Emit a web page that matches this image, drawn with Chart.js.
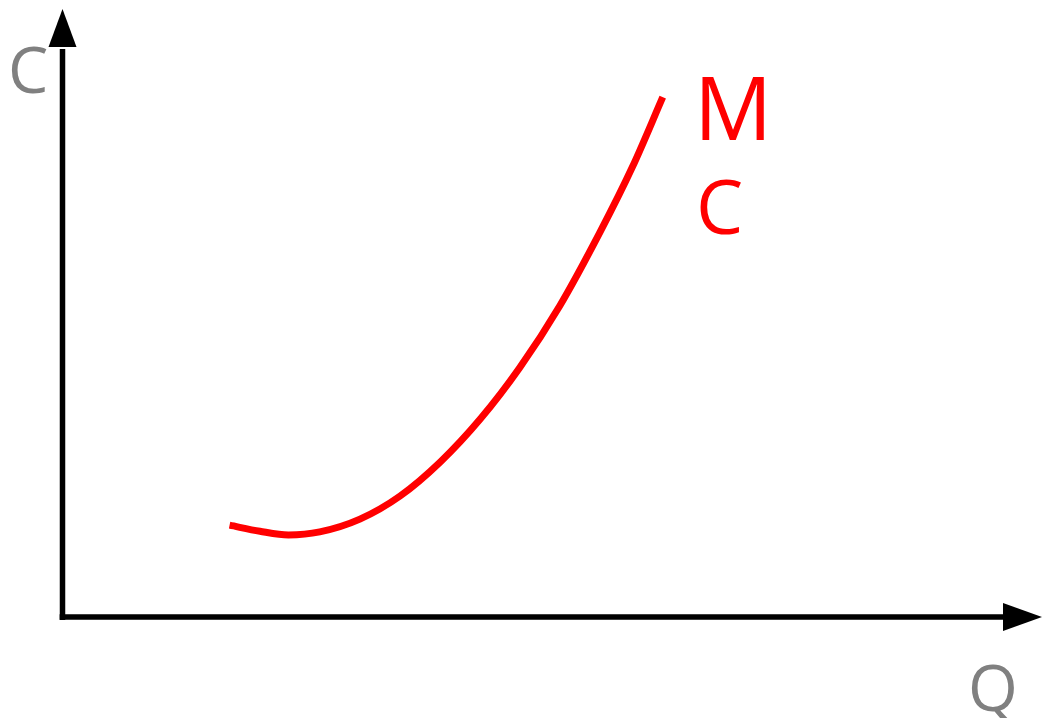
<!DOCTYPE html>
<html>
<head>
<meta charset="utf-8">
<title>MC curve</title>
<script src="https://cdn.jsdelivr.net/npm/chart.js@4/dist/chart.umd.min.js"></script>
<style>
    html, body { margin: 0; padding: 0; background: #fff; }
    #wrap { width: 1045px; height: 718px; position: relative; }
</style>
</head>
<body>
<div id="wrap"><canvas id="mcChart"></canvas></div>
<script>
// Quantity (x) and marginal cost (y)
const qValues = [17.1, 20.2, 23.1, 26.3, 30.4, 34.5, 38.6, 42.7, 46.7, 50.8, 54.9, 58.2, 61.3];
const mcValues = [15.1, 14.1, 13.5, 14.0, 16.1, 19.9, 25.5, 32.6, 41.0, 51.2, 63.3, 74.0, 85.5];

const yAxisLabel = 'C';
const xAxisLabel = 'Q';
const curveLabel = ['M', 'C'];

const points = qValues.map((q, i) => ({ x: q, y: mcValues[i] }));

// Axes with arrow heads plus the text labels
const axesPlugin = {
    id: 'axesPlugin',
    afterDraw(chart) {
        const ctx = chart.ctx;
        const xs = chart.scales.x;
        const ys = chart.scales.y;
        const x0 = xs.getPixelForValue(0) + 0.5;
        const y0 = ys.getPixelForValue(0);
        const xEnd = xs.getPixelForValue(xs.max);
        const yEnd = ys.getPixelForValue(ys.max);

        ctx.save();
        ctx.strokeStyle = '#000';
        ctx.fillStyle = '#000';
        ctx.lineWidth = 5.5;
        ctx.lineCap = 'butt';

        ctx.beginPath();
        ctx.moveTo(x0, y0 + 3);
        ctx.lineTo(x0, yEnd + 40);
        ctx.moveTo(x0 - 3, y0);
        ctx.lineTo(xEnd - 38, y0);
        ctx.stroke();

        // arrow heads
        ctx.beginPath();
        ctx.moveTo(x0, yEnd);
        ctx.lineTo(x0 + 14, yEnd + 38);
        ctx.lineTo(x0 - 14, yEnd + 38);
        ctx.closePath();
        ctx.fill();

        ctx.beginPath();
        ctx.moveTo(xEnd, y0);
        ctx.lineTo(xEnd - 39, y0 - 14);
        ctx.lineTo(xEnd - 39, y0 + 14);
        ctx.closePath();
        ctx.fill();

        ctx.textAlign = 'left';
        ctx.textBaseline = 'alphabetic';
        ctx.fillStyle = '#808080';
        ctx.font = '64px "Open Sans"';
        ctx.fillText(yAxisLabel, 8, 93);
        ctx.fillText(xAxisLabel, 968, 711);

        ctx.fillStyle = '#ff0000';
        ctx.font = '87px "Open Sans"';
        ctx.fillText(curveLabel[0], 694, 140);
        ctx.font = '75px "Open Sans"';
        ctx.fillText(curveLabel[1], 696, 234);
        ctx.restore();
    }
};

new Chart(document.getElementById('mcChart').getContext('2d'), {
    type: 'scatter',
    data: {
        datasets: [{
            label: 'MC',
            data: points,
            showLine: true,
            borderColor: '#ff0000',
            borderWidth: 7,
            borderCapStyle: 'butt',
            pointRadius: 0,
            cubicInterpolationMode: 'monotone',
            fill: false
        }]
    },
    options: {
        responsive: true,
        maintainAspectRatio: false,
        animation: false,
        layout: { padding: { left: 62, right: 3, top: 9, bottom: 101 } },
        scales: {
            x: { type: 'linear', min: 0, max: 100, display: false },
            y: { type: 'linear', min: 0, max: 100, display: false }
        },
        plugins: {
            legend: { display: false },
            tooltip: { enabled: false }
        }
    },
    plugins: [axesPlugin]
});
</script>
</body>
</html>
